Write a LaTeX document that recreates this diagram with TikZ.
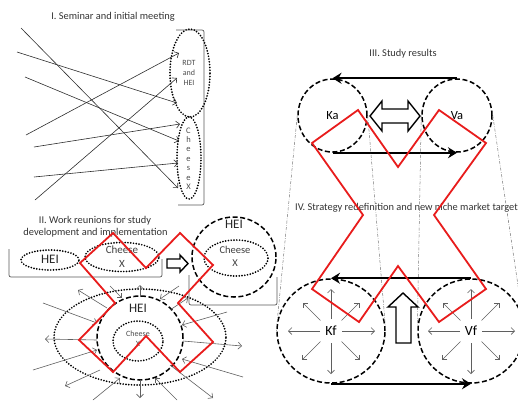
\documentclass[tikz,border=0pt]{standalone}
\usepackage{fontspec}
\setmainfont{Carlito}
\usetikzlibrary{shapes.geometric,arrows.meta,calc}

\definecolor{xred}{RGB}{232,28,28}
\definecolor{ink}{RGB}{45,45,45}
\definecolor{spokegray}{RGB}{95,95,95}
\definecolor{guide}{RGB}{120,120,120}

\begin{document}
\begin{tikzpicture}[x=1bp,y=-1bp,
  dotring/.style={draw=black, ellipse, inner sep=0pt, line width=1.9bp,
    dash pattern=on 0bp off 2.8bp, line cap=round},
  dashring/.style={draw=black, ellipse, inner sep=0pt, line width=1.5bp,
    dash pattern=on 5bp off 2.6bp},
  title/.style={font=\fontsize{10.4bp}{12.5bp}\selectfont, text=black!80, inner sep=0pt},
  lab/.style={inner sep=0pt, text=black!85},
  feed/.style={draw=ink, line width=0.6bp, -{Straight Barb[length=3.5bp,width=7bp]}},
  spoke/.style={draw=spokegray, line width=0.6bp, -{Straight Barb[length=3.5bp,width=7bp]}},
  frame/.style={draw=black!65, line width=0.7bp, rounded corners=2bp},
  guideline/.style={draw=guide, line width=0.5bp,
    dash pattern=on 3bp off 1.5bp on 0.6bp off 1.5bp},
  bigarrow/.style={line width=2bp, -{Stealth[length=9bp,width=11bp,inset=3bp]}},
  hollow/.style={draw=black, fill=white, line width=1.4bp, line join=miter},
  redx/.style={draw=xred, line width=1.8bp, line join=miter}
]
\useasboundingbox (0,0) rectangle (518,401);

% ---------- I. Seminar and initial meeting ----------
\node[title, anchor=base] (t1) at (113,19) {I. Seminar and initial meeting};
\draw[frame] (176,30) -- (204,30) -- (204,205) -- (178,205);
\node[dotring, minimum width=40bp, minimum height=88bp] (rdt) at (190,73) {};
\node[dotring, minimum width=24bp, minimum height=82bp] (chz) at (189,158) {};
\node[lab, align=center, font=\fontsize{8bp}{10bp}\selectfont, text=black!70] (rdtt) at (189,73) {RDT\\and\\HEI};
\node[lab, align=center, font=\fontsize{8.5bp}{9.4bp}\selectfont, text=black!70] (chzt) at (188.5,158.5) {C\\h\\e\\e\\s\\e\\X};

\coordinate (s1) at (21,28);
\coordinate (s2) at (17,52);
\coordinate (s3) at (25,77);
\coordinate (s4) at (26,135);
\coordinate (s5) at (34,147);
\coordinate (s6) at (34,177);
\coordinate (s7) at (35,200);
\draw[feed] (s1) -- ($(chz)+(-11,30)$);
\draw[feed] (s2) -- ($(rdt)+(-13,30)$);
\draw[feed] (s3) -- ($(chz)+(-10,-17)$);
\draw[feed] (s4) -- ($(rdt)+(-11,-20)$);
\draw[feed] (s5) -- ($(chz)+(-9,-34)$);
\draw[feed] (s6) -- ($(chz)+(-11,5)$);
\draw[feed] (s7) -- ($(rdt)+(-13,5)$);

% ---------- II. Work reunions ----------
\node[title, anchor=base] (t2a) at (95,223) {II. Work reunions for study};
\node[title, anchor=base] (t2b) at (95.5,235.5) {development and implementation};
\draw[frame] (9,249) -- (9,277) -- (162,277) -- (162,259);
\node[dotring, minimum width=58bp, minimum height=20bp] (heiL) at (50,260) {};
\node[lab, font=\fontsize{13bp}{15bp}\selectfont] (heiLt) at (50,259) {HEI};
\node[dotring, minimum width=74bp, minimum height=29bp] (chzL) at (122,257) {};
\node[lab, font=\fontsize{11bp}{13bp}\selectfont, text=black!75] (chzLa) at (122,249.5) {Cheese};
\node[lab, font=\fontsize{11bp}{13bp}\selectfont, text=black!75] (chzLb) at (122,263.5) {X};

\draw[hollow] (167,259) -- (180,259) -- (180,255) -- (188,263.5) -- (180,272) -- (180,268) -- (167,268) -- cycle;

\draw[frame] (189,275) -- (189,305) -- (277,305) -- (277,277);
\node[dashring, minimum width=84bp, minimum height=80bp] (heiR) at (234,257) {};
\node[dotring, minimum width=64bp, minimum height=36bp] (chzR) at (236,258) {};
\node[lab, font=\fontsize{13bp}{15bp}\selectfont] (heiRt) at (234,224) {HEI};
\node[lab, font=\fontsize{10.5bp}{12bp}\selectfont, text=black!75] (chzRa) at (235,250) {Cheese};
\node[lab, font=\fontsize{10.5bp}{12bp}\selectfont, text=black!75] (chzRb) at (235,263) {X};

% lower cluster
\node[dotring, minimum width=172bp, minimum height=96bp] (outB) at (140,337) {};
\node[dashring, minimum width=86bp, minimum height=84bp] (heiB) at (140,338) {};
\node[dotring, minimum width=50bp, minimum height=40bp] (chzB) at (138,341) {};
\node[lab, font=\fontsize{13bp}{15bp}\selectfont] (heiBt) at (138,308) {HEI};
\node[lab, font=\fontsize{8bp}{10bp}\selectfont, text=black!70] (chzBa) at (138,334) {Cheese};
\node[lab, font=\fontsize{8bp}{10bp}\selectfont, text=black!70] (chzBb) at (138,344) {X};

% outward spokes
\foreach \dx/\dy/\fx/\fy [count=\i] in
  {-33/-30/78/290, 0/-41/140/285, 30/-28/188/298, -43/2/45/339,
   43/3/242/346, -40/32/65/386, 0/42/140/398, 30/27/213/398}{
  \coordinate (out\i) at (\fx,\fy);
  \draw[spoke] ($(heiB)+(\dx,\dy)$) -- (out\i);
}
% inward spokes
\foreach \fx/\fy/\dx/\dy [count=\i] in
  {110/286/-18/-40, 179/286/20/-39, 43/303/-43/-15, 227/312/42/-13,
   33/370/-43/12, 243/377/42/21, 93/400/-20/40, 177/400/15/40}{
  \coordinate (in\i) at (\fx,\fy);
  \draw[spoke] (in\i) -- ($(heiB)+(\dx,\dy)$);
}

% ---------- III. Study results ----------
\node[title, anchor=base] (t3) at (403,56) {III. Study results};
\node[dashring, minimum width=69bp, minimum height=73bp,
      font=\fontsize{12.5bp}{14bp}\selectfont] (ka) at (332.5,115.5) {Ka};
\node[dashring, minimum width=70bp, minimum height=73bp,
      font=\fontsize{12.5bp}{14bp}\selectfont] (va) at (457,115.5) {Va};
\draw[bigarrow] (va.north) -- (ka.north);
\draw[bigarrow] (ka.south) -- (va.south);
\draw[hollow] (370,116) -- (382,101) -- (382,109) -- (408,109) -- (408,101) -- (420,116)
  -- (408,131) -- (408,123) -- (382,123) -- (382,131) -- cycle;

% ---------- IV. Strategy redefinition ----------
\node[title, anchor=base west] (t4) at (295,210) {IV. Strategy redefinition and new niche market target};
\node[dashring, minimum width=108bp, minimum height=104bp,
      font=\fontsize{14bp}{16bp}\selectfont] (kf) at (331,331) {Kf};
\node[dashring, minimum width=106bp, minimum height=104bp,
      font=\fontsize{14bp}{16bp}\selectfont] (vf) at (471,331) {Vf};

% projection guides from the study results to the strategy circles
\draw[guideline] (ka.west) -- (kf.west);
\draw[guideline] (ka.east) -- (kf.east);
\draw[guideline] (va.west) -- (vf.west);
\draw[guideline] (va.east) -- (vf.east);

\foreach \c in {kf,vf}{
  \foreach \a/\r/\s in {0/44/11, 90/43/12, 180/43/11, 270/42/12,
                        45/41/15, 135/41/15, 225/40/15, 315/40/15}{
    \draw[spoke] ($(\c)+(\a:\s)$) -- ($(\c)+(\a:\r)$);
  }
}
\draw[bigarrow] (vf.north) -- (kf.north);
\draw[bigarrow] (kf.south) -- (vf.south);
\draw[hollow] (403,293) -- (418,307) -- (411,307) -- (411,343) -- (396,343) -- (396,307) -- (388,307) -- cycle;

% ---------- red crosses ----------
\draw[redx] (113,233) -- (146,268) -- (180,233) -- (213,265) -- (178,303) -- (213,342)
  -- (180,372) -- (146,336) -- (113,372) -- (79,340) -- (115,303) -- (80,263) -- cycle;
\draw[redx] (358,110) -- (398,167) -- (439,110) -- (486,143) -- (434,215) -- (486,289)
  -- (439,322) -- (398,266) -- (359,322) -- (312,289) -- (363,215) -- (312,143) -- cycle;
\end{tikzpicture}
\end{document}
